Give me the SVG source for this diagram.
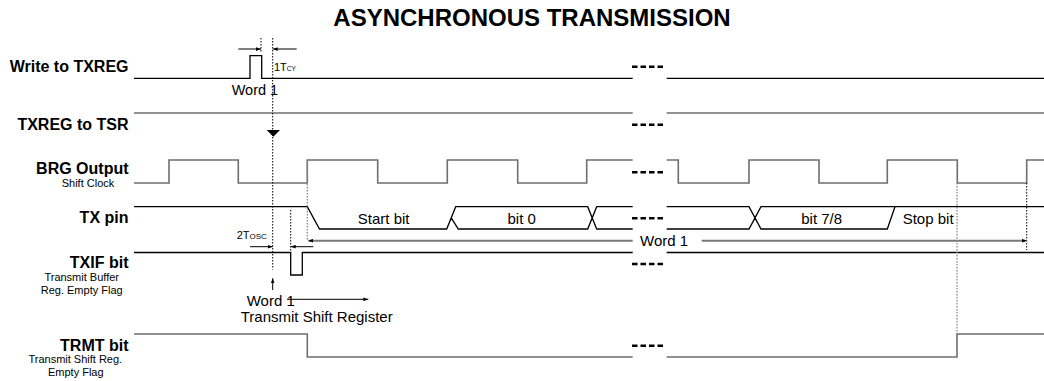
<svg xmlns="http://www.w3.org/2000/svg" width="1044" height="381" viewBox="0 0 1044 381">
<defs>
<style>
text{font-family:"Liberation Sans",Arial,Helvetica,sans-serif;fill:#000}
.title{font-size:24px;font-weight:bold;text-anchor:middle}
.lbl{font-size:16px;font-weight:bold;text-anchor:end}
.sub{font-size:11px;text-anchor:middle}
.t{font-size:15px}
.tm{font-size:15px;text-anchor:middle}
.sig{fill:none;stroke:#000;stroke-width:1.3}
.sigg{fill:none;stroke:#6e6e6e;stroke-width:1.6}
.dash{stroke:#000;stroke-width:2.6;stroke-dasharray:5.5 3}
.dot{stroke:#000;stroke-width:1;stroke-dasharray:1.5 1.5;fill:none}
.dotg{stroke:#888;stroke-width:1.3;stroke-dasharray:1.5 1.5;fill:none}
.arr{stroke:#000;stroke-width:1;fill:none}
.arrg{stroke:#7a7a7a;stroke-width:2;fill:none}
</style>
<marker id="ah" viewBox="0 0 8 6" refX="8" refY="3" markerWidth="5" markerHeight="4" orient="auto" markerUnits="userSpaceOnUse"><path d="M0,0 L8,3 L0,6 z" fill="#000"/></marker>
</defs>
<rect width="1044" height="381" fill="#fff"/>
<text class="title" x="532" y="25.5">ASYNCHRONOUS TRANSMISSION</text>

<g id="write-txreg">
<text class="lbl" x="128.5" y="71.5">Write to TXREG</text>
<path class="sig" d="M134,78.3 H250 V55.7 H261.7 V78.3 H632.7 M666.7,78.3 H1044"/>
<line class="dash" x1="632" y1="66.7" x2="663" y2="66.7"/>
<text class="t" x="231.7" y="95" style="font-size:14.5px">Word 1</text>
<text x="274" y="70.7" style="font-size:11px">1T<tspan style="font-size:6.5px">CY</tspan></text>
</g>

<g id="txreg-tsr">
<text class="lbl" x="128.5" y="130">TXREG to TSR</text>
<path class="sigg" d="M134,113 H632.7 M666.7,113 H1044"/>
<line class="dash" x1="632" y1="124.7" x2="663" y2="124.7"/>
<path d="M266.7,130 L280,130 L273.3,136.7 z" fill="#000"/>
</g>

<g id="brg">
<text class="lbl" x="128.5" y="174">BRG Output</text>
<text class="sub" x="88" y="187">Shift Clock</text>
<path class="sigg" d="M134,183 H169 V160 H238.3 V183 H307.3 V160 H377.7 V183 H447.3 V160 H517.7 V183 H586.7 V160 H632.7 M666.7,160 H678.3 V183 H749 V160 H819 V183 H887.3 V160 H957.3 V183 H1026.7 V160 H1044"/>
<line class="dash" x1="632" y1="172.3" x2="663" y2="172.3"/>
</g>

<g id="tx-pin">
<text class="lbl" x="128.5" y="222.7">TX pin</text>
<path class="sig" d="M134,206.7 H307.3 L319.5,229 H446.7 L455.7,206.7 H587.7 L596.7,229 H632.7 M451.2,217.8 L458.3,229 H587.7 L596.7,206.7 H632.7 M666.7,206.7 H749 L761,229 H887.3 L895,206.7 M666.7,229 H749 L761,206.7 H1044"/>
<line class="dash" x1="632" y1="218.3" x2="663" y2="218.3"/>
<text class="tm" x="383.7" y="224">Start bit</text>
<text class="tm" x="521.7" y="224">bit 0</text>
<text class="tm" x="821.7" y="224">bit 7/8</text>
<text class="t" x="902.7" y="224">Stop bit</text>
</g>

<g id="txif">
<text class="lbl" x="128.5" y="268">TXIF bit</text>
<text class="sub" x="81.7" y="281">Transmit Buffer</text>
<text class="sub" x="81.7" y="294">Reg. Empty Flag</text>
<path class="sig" d="M134,252.5 H290.7 V275 H302.3 V252.5 H632.7 M666.7,252.5 H1044"/>
<line class="dash" x1="632" y1="264" x2="663" y2="264"/>
<text x="236.7" y="239" style="font-size:11px">2T<tspan style="font-size:8px">OSC</tspan></text>
<text class="t" x="246.7" y="305.5">Word 1</text>
<text class="t" x="240.7" y="321.5">Transmit Shift Register</text>
</g>

<g id="trmt">
<text class="lbl" x="128.5" y="350.7">TRMT bit</text>
<text class="sub" x="75.3" y="363">Transmit Shift Reg.</text>
<text class="sub" x="75.8" y="376">Empty Flag</text>
<path class="sigg" d="M134,334 H307.3 V357 H632.7 M666.7,357 H957 V334 H1044"/>
<line class="dash" x1="632" y1="345.7" x2="663" y2="345.7"/>
</g>

<g id="connectors">
<line class="dot" x1="272.7" y1="38" x2="272.7" y2="269.5"/>
<line class="dot" x1="261" y1="38" x2="261" y2="52"/>
<line class="dot" x1="290.7" y1="210" x2="290.7" y2="252"/>
<line class="dotg" x1="307.3" y1="160" x2="307.3" y2="241"/>
<line class="dotg" x1="957" y1="183" x2="957" y2="334"/>
<line class="dot" x1="1026.7" y1="183" x2="1026.7" y2="250"/>
<path class="arr" d="M238.3,49 H261" marker-end="url(#ah)"/>
<path class="arr" d="M296.7,49 H272.7" marker-end="url(#ah)"/>
<path class="arr" d="M250,246.7 H272.7" marker-end="url(#ah)"/>
<path class="arr" d="M313.3,246.7 H290.7" marker-end="url(#ah)"/>
<path class="arrg" d="M632.7,240.7 H308.3" marker-end="url(#ah)"/>
<path class="arrg" d="M701.7,240.7 H1026.7" marker-end="url(#ah)"/>
<text class="t" x="640" y="245.5">Word 1</text>
<path class="arr" d="M272.7,290 V278.3" marker-end="url(#ah)"/>
<path class="arr" d="M287,299.3 H368.3" marker-end="url(#ah)"/>
</g>
</svg>
